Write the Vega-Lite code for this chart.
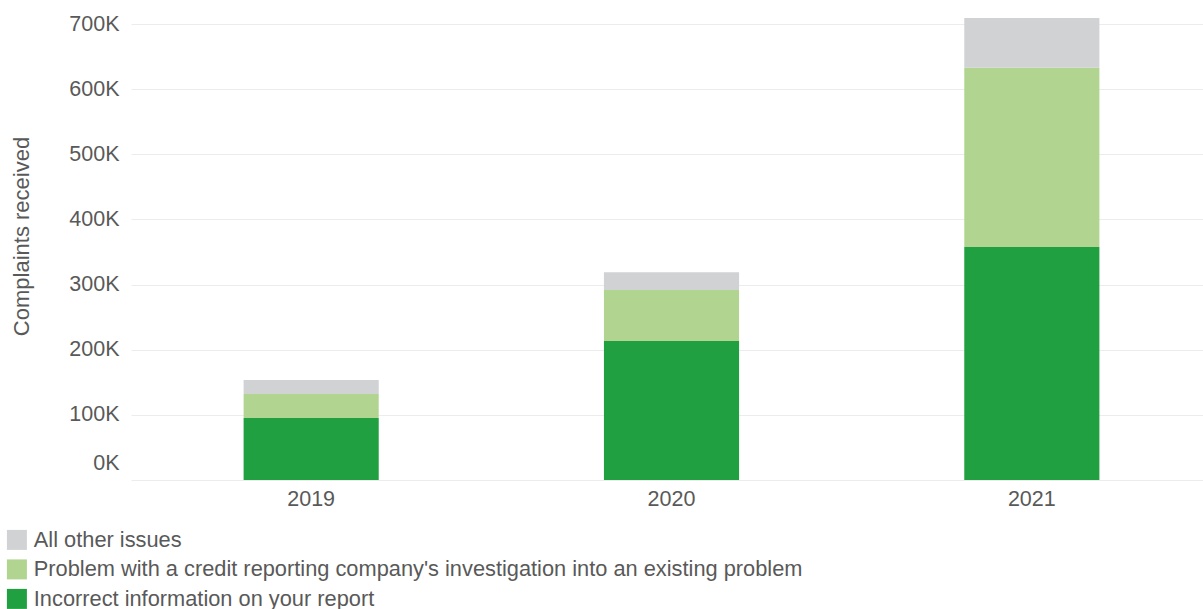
{
  "$schema": "https://vega.github.io/schema/vega-lite/v6.json",
  "width": 1072,
  "height": 456,
  "autosize": "none",
  "padding": {"left": 131, "top": 24, "right": 0, "bottom": 129},
  "background": "white",
  "config": {
    "view": {"stroke": null},
    "font": "Liberation Sans"
  },
  "data": {
    "values": [
      {"year": "2019", "issue": "Incorrect information on your report", "seq": 1, "complaints": 95000},
      {"year": "2019", "issue": "Problem with a credit reporting company's investigation into an existing problem", "seq": 2, "complaints": 37000},
      {"year": "2019", "issue": "All other issues", "seq": 3, "complaints": 21500},
      {"year": "2020", "issue": "Incorrect information on your report", "seq": 1, "complaints": 213500},
      {"year": "2020", "issue": "Problem with a credit reporting company's investigation into an existing problem", "seq": 2, "complaints": 78000},
      {"year": "2020", "issue": "All other issues", "seq": 3, "complaints": 27500},
      {"year": "2021", "issue": "Incorrect information on your report", "seq": 1, "complaints": 357700},
      {"year": "2021", "issue": "Problem with a credit reporting company's investigation into an existing problem", "seq": 2, "complaints": 275000},
      {"year": "2021", "issue": "All other issues", "seq": 3, "complaints": 76500}
    ]
  },
  "mark": {"type": "bar", "width": {"band": 0.375}},
  "encoding": {
    "x": {
      "field": "year",
      "type": "ordinal",
      "scale": {"range": [0, 1081], "paddingInner": 0, "paddingOuter": 0},
      "axis": {
        "title": null,
        "labelAngle": 0,
        "domain": false,
        "ticks": false,
        "labelFontSize": 21.5,
        "labelColor": "#595959",
        "labelPadding": 8
      }
    },
    "y": {
      "field": "complaints",
      "type": "quantitative",
      "stack": "zero",
      "scale": {"domain": [0, 700000], "nice": false},
      "axis": {
        "title": "Complaints received",
        "titleFontSize": 22,
        "titleFontWeight": "normal",
        "titleColor": "#595959",
        "titlePadding": 35,
        "titleY": 212,
        "values": [0, 100000, 200000, 300000, 400000, 500000, 600000, 700000],
        "labelExpr": "datum.value / 1000 + 'K'",
        "labelFontSize": 21.5,
        "labelColor": "#595959",
        "labelPadding": 12,
        "labelOffset": {"condition": {"test": "datum.value === 0", "value": -17}, "value": 0},
        "domain": false,
        "ticks": false,
        "grid": true,
        "gridColor": "#ececec",
        "gridWidth": 1
      }
    },
    "color": {
      "field": "issue",
      "type": "nominal",
      "scale": {
        "domain": ["All other issues", "Problem with a credit reporting company's investigation into an existing problem", "Incorrect information on your report"],
        "range": ["#d1d2d4", "#b1d591", "#20a040"]
      },
      "legend": {
        "title": null,
        "orient": "none",
        "legendX": -125,
        "legendY": 505,
        "direction": "vertical",
        "symbolType": "square",
        "symbolSize": 400,
        "symbolStrokeWidth": 0,
        "labelFontSize": 21.8,
        "labelColor": "#595959",
        "labelOffset": 6,
        "labelLimit": 1000,
        "rowPadding": 6.5,
        "padding": 0
      }
    },
    "order": {"field": "seq", "type": "quantitative"}
  }
}
